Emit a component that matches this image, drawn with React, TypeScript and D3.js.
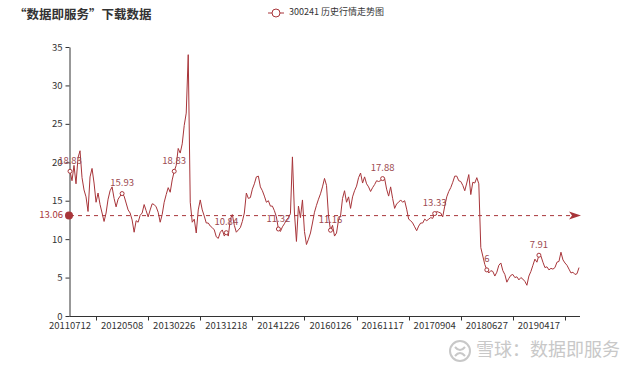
import { useEffect, useRef } from 'react';
import * as d3 from 'd3';

// 历史收盘价（按图上像素估读，每两个像素一个点）
const prices: number[] = [
  18.83, 17.6, 19.6, 17.2, 20.6, 21.5, 18.0, 16.4, 15.5, 13.6, 18.1, 19.2, 17.3, 14.8, 16.0, 14.5, 13.4, 12.3, 13.4, 15.2, 16.3, 16.8, 15.3, 14.2, 15.2, 15.6,
  15.93, 15.6, 14.7, 13.8, 13.4, 12.5, 10.9, 12.4, 12.2, 13.1, 13.4, 14.5, 13.7, 12.9, 13.8, 14.6, 14.5, 14.2, 13.5, 12.2, 13.2, 14.8, 15.8, 16.7, 16.1, 17.7,
  18.83, 19.6, 21.8, 21.2, 22.4, 24.8, 26.4, 34.0, 14.8, 12.2, 12.6, 10.8, 13.8, 15.1, 13.8, 13.0, 12.1, 12.1, 11.7, 11.5, 11.2, 10.3, 10.1, 10.9, 11.2, 10.4,
  10.84, 10.4, 12.6, 13.2, 11.8, 10.9, 11.2, 11.5, 12.3, 13.4, 16.0, 15.3, 15.4, 16.5, 17.2, 18.1, 18.2, 16.8, 16.3, 15.6, 14.8, 15.0, 14.3, 14.3, 13.7, 12.9,
  11.32, 11.0, 11.6, 12.0, 12.5, 12.8, 13.3, 20.7, 13.4, 9.7, 14.3, 12.8, 15.1, 11.0, 9.3, 10.0, 10.8, 12.1, 13.5, 14.4, 15.2, 15.9, 16.8, 17.9, 17.0, 13.0,
  11.16, 11.8, 10.4, 10.8, 12.5, 13.0, 15.3, 16.3, 14.8, 15.5, 14.0, 15.5, 16.3, 16.9, 18.0, 18.6, 17.3, 18.1, 17.2, 16.8, 16.2, 16.7, 17.1, 17.6, 17.5, 17.6,
  17.88, 17.9, 16.5, 15.6, 16.8, 15.3, 14.0, 14.6, 14.8, 15.1, 14.8, 15.0, 13.9, 12.6, 12.4, 12.1, 11.6, 11.1, 11.7, 12.1, 12.1, 12.6, 12.4, 12.6, 12.8, 12.7,
  13.33, 13.6, 13.5, 13.4, 12.9, 14.3, 15.5, 16.2, 16.7, 17.4, 18.2, 18.2, 17.6, 17.5, 17.0, 16.3, 17.3, 18.4, 15.8, 17.4, 17.3, 18.0, 17.2, 8.9, 7.8, 6.7,
  6.0, 5.6, 5.9, 5.8, 5.2, 5.7, 6.6, 6.9, 5.9, 5.4, 4.4, 4.9, 5.3, 5.4, 5.0, 5.1, 4.7, 5.0, 4.8, 4.5, 4.0, 5.2, 5.8, 6.6, 7.4, 7.0,
  7.91, 7.8, 7.0, 6.3, 6.4, 6.0, 6.2, 6.1, 6.3, 7.0, 7.1, 8.3, 7.3, 6.9, 6.6, 6.1, 5.6, 5.7, 5.4, 5.5, 6.3,
];

// 横轴类目标签（每 26 个点一个）
const dateLabels = [
  '20110712', '20120508', '20130226', '20131218', '20141226',
  '20160126', '20161117', '20170904', '20180627', '20190417',
];
const LABEL_STEP = 26;
const yTicks = [0, 5, 10, 15, 20, 25, 30, 35];
const avgPrice = 13.06;

const TITLE = '“数据即服务”下载数据';
const SERIES_NAME = '300241 历史行情走势图';
const WATERMARK = '雪球：数据即服务';

const RED = '#a8353a';
const FONT = '"Noto Sans CJK SC", "Noto Sans", sans-serif';

export default function App() {
  const svgRef = useRef<SVGSVGElement>(null);

  useEffect(() => {
    if (!svgRef.current) return;
    const width = 640;
    const height = 369;
    const left = 70;
    const right = 579;
    const top = 47;
    const bottom = 316;

    const svg = d3.select(svgRef.current);
    svg.selectAll('*').remove();
    svg.attr('width', width).attr('height', height).attr('viewBox', `0 0 ${width} ${height}`);

    const x = d3.scaleLinear().domain([0, prices.length - 1]).range([left, right]);
    const y = d3.scaleLinear().domain([0, 35]).range([bottom, top]);

    // 标题
    svg.append('text')
      .attr('x', 14)
      .attr('y', 16)
      .attr('dominant-baseline', 'middle')
      .style('font-family', FONT)
      .style('font-size', '12.5px')
      .style('font-weight', 'bold')
      .attr('fill', '#333')
      .text(TITLE);

    // 图例
    const lg = svg.append('g').attr('transform', 'translate(268,13)');
    lg.append('line').attr('x1', 0).attr('x2', 16).attr('stroke', RED).attr('stroke-width', 1);
    lg.append('circle').attr('cx', 8).attr('r', 4).attr('fill', '#fff').attr('stroke', RED).attr('stroke-width', 1);
    lg.append('text')
      .attr('x', 21)
      .attr('dominant-baseline', 'middle')
      .style('font-family', FONT)
      .style('font-size', '9px')
      .attr('fill', '#333')
      .text(SERIES_NAME);

    // Y 轴
    const yAxis = svg.append('g')
      .attr('transform', `translate(${left - 0.5},0)`)
      .call(d3.axisLeft(y).tickValues(yTicks).tickSize(4).tickPadding(3).tickSizeOuter(0));
    yAxis.select('.domain').attr('stroke', '#333');
    yAxis.selectAll('line').attr('stroke', '#333');
    yAxis.selectAll('text').style('font-family', FONT).style('font-size', '9.5px').attr('fill', '#333');

    // X 轴：刻度线在标签之间
    const midIdx = dateLabels.map((_, i) => i * LABEL_STEP + LABEL_STEP / 2).filter((i) => i < prices.length);
    const xAxis = svg.append('g').attr('transform', `translate(0,${bottom + 0.5})`);
    xAxis.append('line').attr('x1', left - 0.5).attr('x2', right + 1).attr('stroke', '#333');
    xAxis.selectAll('line.tick')
      .data(midIdx)
      .join('line')
      .attr('class', 'tick')
      .attr('x1', (d) => Math.round(x(d)) + 0.5)
      .attr('x2', (d) => Math.round(x(d)) + 0.5)
      .attr('y1', 0)
      .attr('y2', 4)
      .attr('stroke', '#333');
    xAxis.selectAll('text')
      .data(dateLabels)
      .join('text')
      .attr('x', (_, i) => x(i * LABEL_STEP))
      .attr('y', 10)
      .attr('text-anchor', 'middle')
      .attr('dominant-baseline', 'middle')
      .style('font-family', FONT)
      .style('font-size', '9.5px')
      .attr('fill', '#333')
      .text((d) => d);

    // 均值标线
    const ay = y(avgPrice);
    svg.append('line')
      .attr('x1', left)
      .attr('x2', right - 6)
      .attr('y1', ay)
      .attr('y2', ay)
      .attr('stroke', RED)
      .attr('stroke-width', 1)
      .attr('stroke-dasharray', '4,4');
    svg.append('path')
      .attr('d', `M${right + 2},${ay} L${right - 10},${ay - 4} L${right - 7},${ay} L${right - 10},${ay + 4} Z`)
      .attr('fill', RED);
    svg.append('circle').attr('cx', left - 1).attr('cy', ay).attr('r', 4).attr('fill', RED);
    svg.append('text')
      .attr('x', left - 7)
      .attr('y', ay)
      .attr('text-anchor', 'end')
      .attr('dominant-baseline', 'middle')
      .style('font-family', FONT)
      .style('font-size', '9.5px')
      .attr('fill', RED)
      .text(avgPrice.toFixed(2));

    // 折线
    const lineGen = d3.line<number>().x((_, i) => x(i)).y((d) => y(d));
    svg.append('path')
      .datum(prices)
      .attr('d', lineGen)
      .attr('fill', 'none')
      .attr('stroke', RED)
      .attr('stroke-width', 1)
      .attr('stroke-linejoin', 'round');

    // 标签点
    const labeled = prices.map((v, i) => ({ v, i })).filter((d) => d.i % LABEL_STEP === 0);
    svg.selectAll('circle.pt')
      .data(labeled)
      .join('circle')
      .attr('class', 'pt')
      .attr('cx', (d) => x(d.i))
      .attr('cy', (d) => y(d.v))
      .attr('r', 2)
      .attr('fill', '#fff')
      .attr('stroke', RED)
      .attr('stroke-width', 1);
    svg.selectAll('text.pt')
      .data(labeled)
      .join('text')
      .attr('class', 'pt')
      .attr('x', (d) => x(d.i))
      .attr('y', (d) => y(d.v) - 10)
      .attr('text-anchor', 'middle')
      .attr('dominant-baseline', 'middle')
      .style('font-family', FONT)
      .style('font-size', '9.5px')
      .attr('fill', '#9c4a50')
      .text((d) => String(d.v));

    // 水印
    const wm = svg.append('g').attr('transform', 'translate(460,351)');
    wm.append('circle').attr('r', 10).attr('fill', 'none').attr('stroke', '#c8c8c8').attr('stroke-width', 2);
    wm.append('path').attr('d', 'M-5,-4 Q0,2 5,-4 M-5,5 Q0,-1 5,5').attr('fill', 'none').attr('stroke', '#c8c8c8').attr('stroke-width', 2);
    wm.append('text')
      .attr('x', 16)
      .attr('dominant-baseline', 'middle')
      .style('font-family', FONT)
      .style('font-size', '18px')
      .attr('fill', '#c8c8c8')
      .text(WATERMARK);
  }, []);

  return (
    <svg
      ref={svgRef}
      style={{ position: 'absolute', left: 0, top: 0, background: '#fff' }}
      role="img"
      aria-label={SERIES_NAME}
    />
  );
}
